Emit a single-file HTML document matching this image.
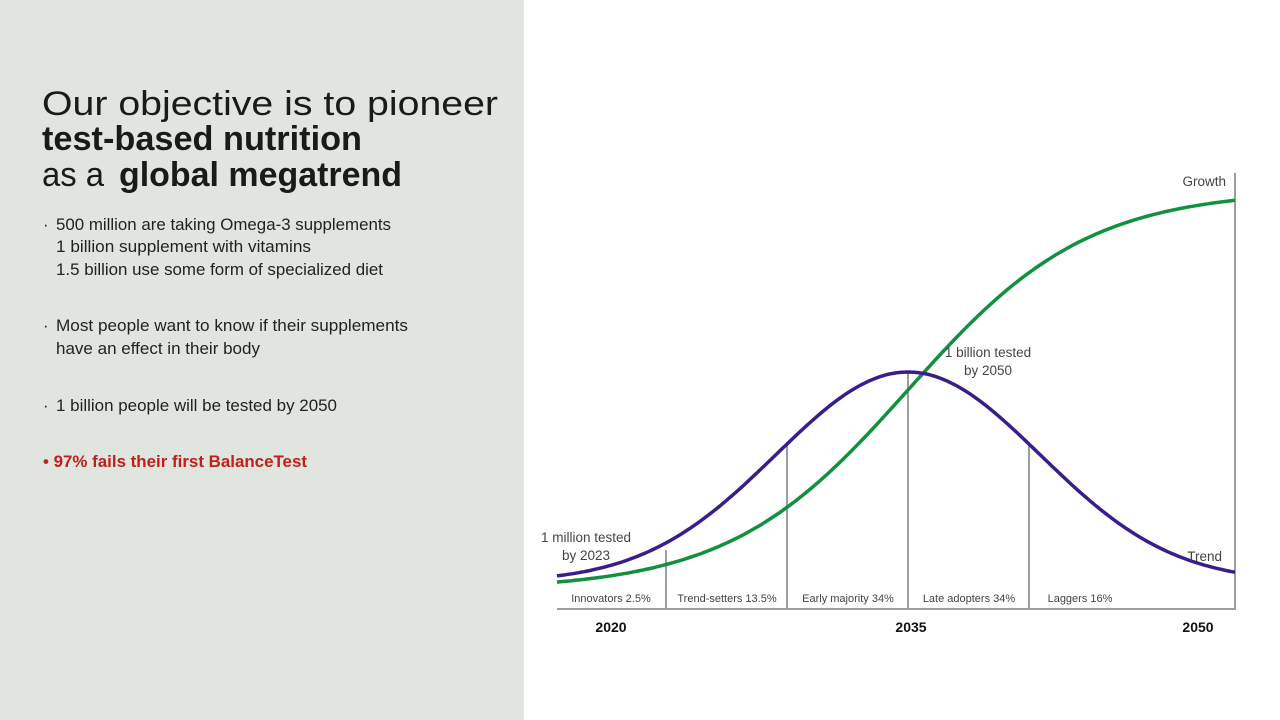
<!DOCTYPE html>
<html><head><meta charset="utf-8"><style>
html,body{margin:0;padding:0;width:1280px;height:720px;overflow:hidden;background:#fff}
svg{display:block}
text{font-family:"Liberation Sans",sans-serif}
</style></head><body>
<svg width="1280" height="720" viewBox="0 0 1280 720">
<rect x="0" y="0" width="524" height="720" fill="#e0e6df"/>
<g fill="#1a1a1a">
<text x="42" y="115" font-size="34" textLength="456" lengthAdjust="spacingAndGlyphs" font-weight="300">Our objective is to pioneer</text>
<text x="42" y="150" font-size="34" font-weight="bold" textLength="320" lengthAdjust="spacingAndGlyphs">test-based nutrition</text>
<text x="42" y="186" font-size="34" textLength="62" lengthAdjust="spacingAndGlyphs">as a</text>
<text x="119" y="186" font-size="34" font-weight="bold" textLength="283" lengthAdjust="spacingAndGlyphs">global megatrend</text>
</g>
<g fill="#222" font-size="16.5">
<text x="43" y="230">·</text>
<text x="56" y="230" textLength="335" lengthAdjust="spacingAndGlyphs">500 million are taking Omega-3 supplements</text>
<text x="56" y="252" textLength="255" lengthAdjust="spacingAndGlyphs">1 billion supplement with vitamins</text>
<text x="56" y="275" textLength="327" lengthAdjust="spacingAndGlyphs">1.5 billion use some form of specialized diet</text>
<text x="43" y="331">·</text>
<text x="56" y="331" textLength="352" lengthAdjust="spacingAndGlyphs">Most people want to know if their supplements</text>
<text x="56" y="354" textLength="204" lengthAdjust="spacingAndGlyphs">have an effect in their body</text>
<text x="43" y="411">·</text>
<text x="56" y="411" textLength="281" lengthAdjust="spacingAndGlyphs">1 billion people will be tested by 2050</text>
<text x="43" y="467" fill="#c0201a" font-weight="bold" textLength="264" lengthAdjust="spacingAndGlyphs">• 97% fails their first BalanceTest</text>
</g>
<g stroke="#9aa0a0" stroke-width="2" fill="none">
<line x1="557" y1="609" x2="1236" y2="609"/>
<line x1="1235" y1="173" x2="1235" y2="609"/>
<line x1="666" y1="550" x2="666" y2="609"/>
<line x1="787" y1="442" x2="787" y2="609"/>
<line x1="908" y1="372" x2="908" y2="609"/>
<line x1="1029" y1="442" x2="1029" y2="609"/>
</g>
<path id="g" fill="none" stroke="#119140" stroke-width="3.5"/>
<path id="p" fill="none" stroke="#3a1d8c" stroke-width="3.5"/>
<g fill="#444" font-size="11">
<text x="611" y="602" text-anchor="middle">Innovators 2.5%</text>
<text x="727" y="602" text-anchor="middle">Trend-setters 13.5%</text>
<text x="848" y="602" text-anchor="middle">Early majority 34%</text>
<text x="969" y="602" text-anchor="middle">Late adopters 34%</text>
<text x="1080" y="602" text-anchor="middle">Laggers 16%</text>
</g>
<g fill="#444" font-size="13.5">
<text x="586" y="542" text-anchor="middle">1 million tested</text>
<text x="586" y="560" text-anchor="middle">by 2023</text>
<text x="988" y="357" text-anchor="middle">1 billion tested</text>
<text x="988" y="375" text-anchor="middle">by 2050</text>
<text x="1226" y="186" text-anchor="end">Growth</text>
<text x="1222" y="561" text-anchor="end">Trend</text>
</g>
<g fill="#111" font-size="14" font-weight="bold">
<text x="611" y="632" text-anchor="middle">2020</text>
<text x="911" y="632" text-anchor="middle">2035</text>
<text x="1198" y="632" text-anchor="middle">2050</text>
</g>
</svg>
<script>
var g="",p="";
for(var x=557;x<=1235;x+=3){
 var yg=590-400/(1+Math.exp(-(x-908)/90));
 var t=(x-908)/132;
 var yp=582-210*Math.exp(-t*t/2);
 g+=(x==557?"M":"L")+x+","+yg.toFixed(1);
 p+=(x==557?"M":"L")+x+","+yp.toFixed(1);
}
document.getElementById("g").setAttribute("d",g);
document.getElementById("p").setAttribute("d",p);
</script>
</body></html>
